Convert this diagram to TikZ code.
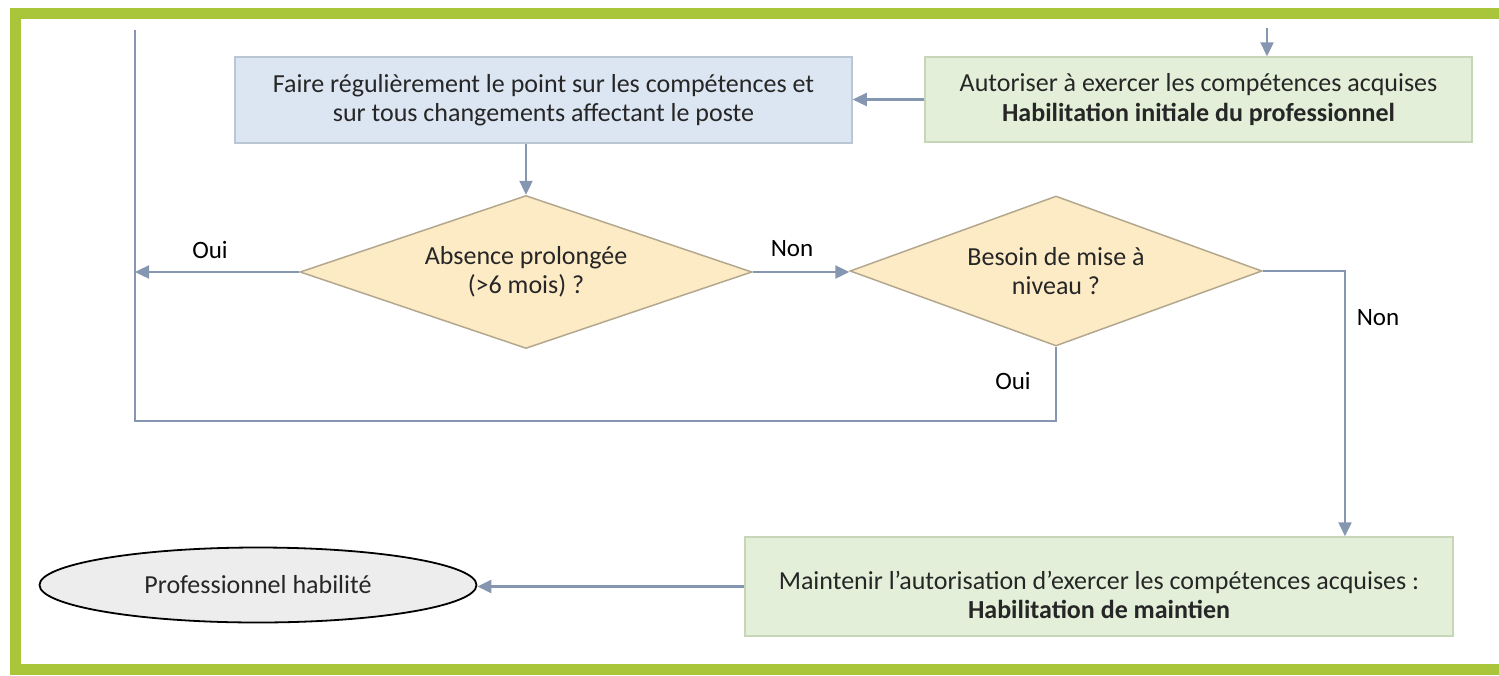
\documentclass[tikz,border=0pt]{standalone}
\usepackage{fontspec}
\setmainfont{Carlito}
\usetikzlibrary{arrows.meta,shapes.geometric,calc}
\definecolor{frame}{HTML}{A9C63A}
\definecolor{conn}{HTML}{8496B0}
\definecolor{bluefill}{HTML}{DCE6F2}
\definecolor{blueline}{HTML}{B9C6D3}
\definecolor{greenfill}{HTML}{E3EFD9}
\definecolor{greenline}{HTML}{C6D6B6}
\definecolor{diafill}{HTML}{FDEBC6}
\definecolor{dialine}{HTML}{B3A88E}
\definecolor{ellfill}{HTML}{EDEDED}
\definecolor{txt}{HTML}{262626}
\begin{document}
\begin{tikzpicture}[x=1pt,y=-1pt,
  every node/.style={font=\fontsize{26}{29.5}\selectfont, text=txt},
  boxblue/.style={draw=blueline, line width=1.5pt, fill=bluefill, rectangle, align=center, inner sep=0pt},
  boxgreen/.style={draw=greenline, line width=1.5pt, fill=greenfill, rectangle, align=center, inner sep=0pt},
  decision/.style={draw=dialine, line width=1.5pt, fill=diafill, diamond, align=center, inner sep=0pt},
  terminal/.style={draw=black, line width=1.8pt, fill=ellfill, ellipse, inner sep=0pt},
  conline/.style={draw=conn, line width=2.4pt},
  arr/.style={conline, -{Triangle[width=13pt,length=14pt]}},
  lbl/.style={font=\fontsize{25}{28}\selectfont, text=black}
]
\useasboundingbox (0,0) rectangle (1499,675);
% frame
\fill[frame] (10,8) rectangle (1499,19);
\fill[frame] (10,8) rectangle (21,675);
\fill[frame] (10,664) rectangle (1499,675);

% nodes
\node[boxblue, minimum width=617pt, minimum height=86pt] (b1) at (543.5,100)
  {Faire régulièrement le point sur les compétences et\\sur tous changements affectant le poste};
\node[boxgreen, minimum width=547pt, minimum height=85pt] (g1) at (1198.5,99.5)
  {Autoriser à exercer les compétences acquises\\\textbf{Habilitation initiale du professionnel}};
\node[decision, aspect=2.95, minimum width=452pt, minimum height=153pt] (d1) at (526,272)
  {Absence prolongée\\(>6 mois) ?};
\node[decision, aspect=2.75, minimum width=412pt, minimum height=150pt] (d2) at (1056,271)
  {Besoin de mise à\\niveau ?};
\node[boxgreen, minimum width=708pt, minimum height=99pt] (g2) at (1099,586.5) {};
\node[align=center] (g2t) at (1099,595)
  {Maintenir l’autorisation d’exercer les compétences acquises :\\\textbf{Habilitation de maintien}};
\node[terminal, minimum width=437pt, minimum height=75pt] (e1) at (258,585)
  {Professionnel habilité};

% coordinates
\coordinate (topin) at (1267,28);
\coordinate (looptop) at (135,30);
\coordinate (loopbl) at (135,421);
\coordinate (rx) at (1345,0);

% connectors
\draw[arr] (topin) -- (topin |- g1.north);
\draw[arr] (g1.west) -- (g1.west -| b1.east);
\draw[arr] (d1.north |- b1.south) -- (d1.north);
\draw[arr] (d1.west) -- (d1.west -| looptop);
\draw[arr] (d1.east) -- (d1.east -| d2.west);
\draw[arr] (d2.east) -| (rx |- g2.north);
\draw[conline] (d2.south) |- (loopbl) -- (looptop);
\draw[arr] (g2.west) -- (g2.west -| e1.east);

% labels
\node[lbl] (oui1) at (210,250) {Oui};
\node[lbl] (non1) at (792,249) {Non};
\node[lbl] (oui2) at (1013,381) {Oui};
\node[lbl] (non2) at (1378,318) {Non};
\end{tikzpicture}
\end{document}
